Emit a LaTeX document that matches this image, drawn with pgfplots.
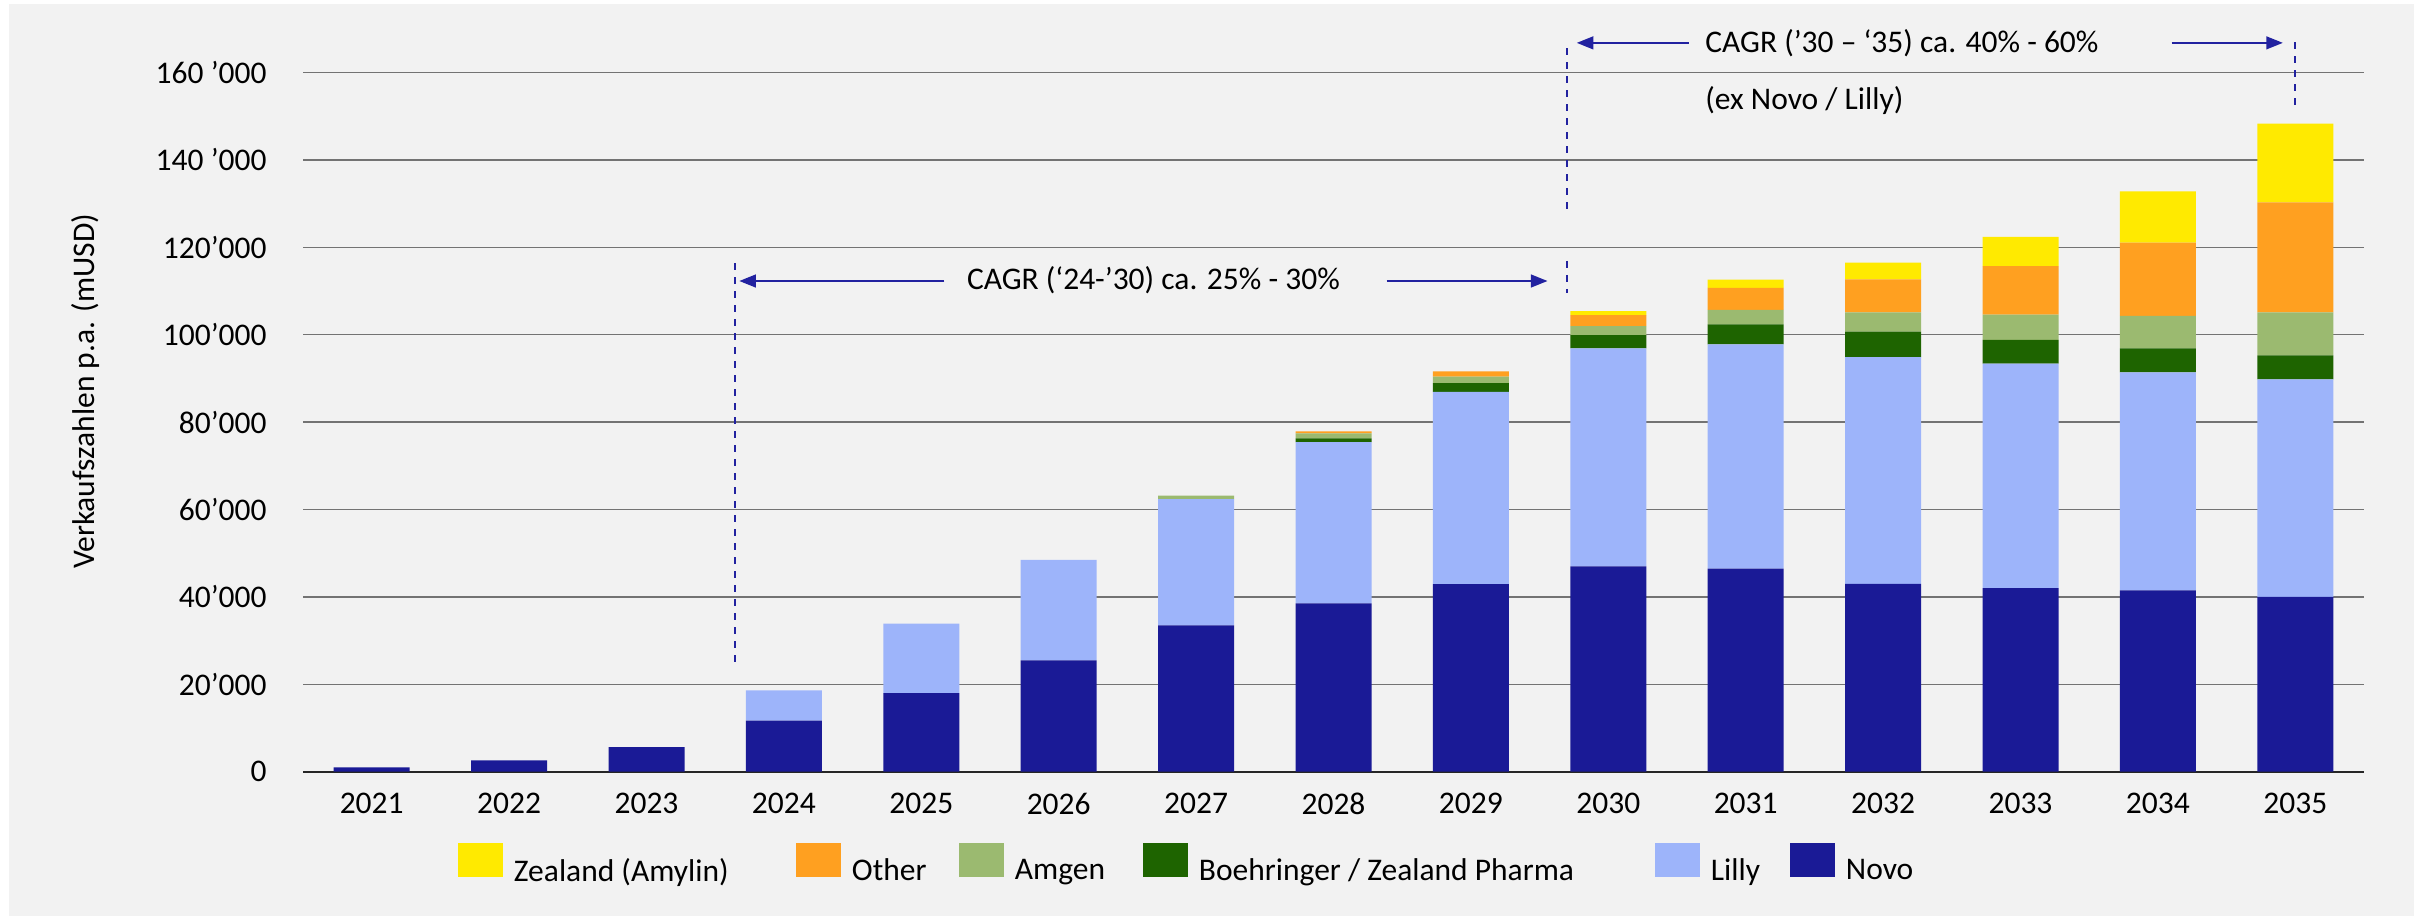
\documentclass[border=0pt]{standalone}
\usepackage{fontspec}
\setmainfont{Carlito}
\usepackage{pgfplots}
\pgfplotsset{compat=1.18}
\usepackage{pgfplotstable}
\usetikzlibrary{arrows.meta}
\definecolor{bgcol}{HTML}{F2F2F2}
\definecolor{novo}{HTML}{1A1A96}
\definecolor{lilly}{HTML}{9DB4FA}
\definecolor{bi}{HTML}{1E6400}
\definecolor{amgen}{HTML}{9BBA70}
\definecolor{other}{HTML}{FFA020}
\definecolor{zealand}{HTML}{FFEA00}
\definecolor{annot}{HTML}{2222A0}
\pgfplotstableread{
x novo lilly bi amgen other zealand
0 1000 0 0 0 0 0
1 2600 0 0 0 0 0
2 5600 0 0 0 0 0
3 11700 6900 0 0 0 0
4 18000 15900 0 0 0 0
5 25500 23000 0 0 0 0
6 33500 28900 0 800 0 0
7 38500 36900 900 1100 500 0
8 42900 44000 2000 1500 1200 0
9 47000 49900 3000 2100 2500 900
10 46500 51300 4600 3300 5000 1900
11 43000 51900 5800 4400 7600 3800
12 42000 51400 5400 5800 11100 6700
13 41500 49900 5500 7400 16800 11700
14 40000 49800 5500 9800 25200 18000
}\data
\begin{document}
\fontsize{9.45}{11.3}\selectfont
\begin{tikzpicture}
\useasboundingbox (0,0) rectangle (726.6pt,274.8pt);
\fill[bgcol] (2.7pt,0) rectangle (724.2pt,273.6pt);
\begin{axis}[
  at={(90.9pt,43.29pt)}, anchor=south west,
  width=618.3pt, height=209.73pt, scale only axis,
  xmin=-0.5, xmax=14.5, ymin=0, ymax=160000,
  ybar stacked, bar width=22.8pt,
  xtick={0,1,2,3,4,5,6,7,8,9,10,11,12,13,14},
  xticklabels={2021,2022,2023,2024,2025,2026,2027,2028,2029,2030,2031,2032,2033,2034,2035},
  ytick={0,20000,40000,60000,80000,100000,120000,140000,160000},
  yticklabels={0,20’000,40’000,60’000,80’000,100’000,120’000,140 ’000,160 ’000},
  scaled y ticks=false,
  major tick length=0pt,
  axis line style={draw=none},
  ymajorgrids, major grid style={black!55, line width=0.4pt},
  xticklabel style={yshift=-3pt},
  yticklabel style={xshift=-7.6pt},
  ylabel={Verkaufszahlen p.a. (mUSD)},
  ylabel style={at={(axis description cs:-0.1053,0.544)}, anchor=center},
  clip=false,
  reverse legend,
  legend columns=6,
  legend style={draw=none, fill=none, at={(axis description cs:0.0752,-0.1378)}, anchor=west,
    inner sep=0pt, outer sep=0pt, nodes={inner xsep=0pt},
    /tikz/every odd column/.append style={column sep=3.3pt},
    /tikz/every even column/.append style={column sep=0pt}},
  sw/.style={legend image code/.code={\fill[##1] (0pt,-1.6pt) rectangle (13.5pt,8.6pt);}},
]
\addplot[fill=novo, draw=none, sw] table[x=x, y=novo] {\data};
\addlegendentry{Novo}
\addplot[fill=lilly, draw=none, sw] table[x=x, y=lilly] {\data};
\addlegendentry{\makebox[23.7pt][l]{Lilly}}
\addplot[fill=bi, draw=none, sw] table[x=x, y=bi] {\data};
\addlegendentry{\makebox[136.8pt][l]{Boehringer / Zealand Pharma}}
\addplot[fill=amgen, draw=none, sw] table[x=x, y=amgen] {\data};
\addlegendentry{\makebox[38.4pt][l]{Amgen}}
\addplot[fill=other, draw=none, sw] table[x=x, y=other] {\data};
\addlegendentry{\makebox[32.1pt][l]{Other}}
\addplot[fill=zealand, draw=none, sw] table[x=x, y=zealand] {\data};
\addlegendentry{\makebox[84.6pt][l]{Zealand (Amylin)}}
\draw[black!85, line width=0.6pt] (axis cs:-0.5,0) -- (axis cs:14.5,0);
% annotations
\draw[annot, line width=0.6pt, dash pattern=on 2.1pt off 2.1pt] (axis cs:2.641,116400) -- (axis cs:2.641,24900);
\draw[annot, line width=0.6pt, dash pattern=on 2.1pt off 2.1pt] (axis cs:8.70,116900) -- (axis cs:8.70,109500);
\draw[annot, line width=0.6pt, dash pattern=on 2.1pt off 2.1pt] (axis cs:8.697,165600) -- (axis cs:8.697,128800);
\draw[annot, line width=0.6pt, dash pattern=on 2.1pt off 2.1pt] (axis cs:14.0,166900) -- (axis cs:14.0,152500);
\draw[annot, line width=0.7pt, -{Triangle[length=5pt,width=3.8pt]}] (axis cs:4.168,112300) -- (axis cs:2.675,112300);
\draw[annot, line width=0.7pt, -{Triangle[length=5pt,width=3.8pt]}] (axis cs:7.386,112300) -- (axis cs:8.558,112300);
\draw[annot, line width=0.7pt, -{Triangle[length=5pt,width=3.8pt]}] (axis cs:9.585,166800) -- (axis cs:8.77,166800);
\draw[annot, line width=0.7pt, -{Triangle[length=5pt,width=3.8pt]}] (axis cs:13.10,166800) -- (axis cs:13.91,166800);
\node[anchor=center] at (axis cs:5.689,112400) {CAGR (‘24-’30) ca. 25\% - 30\%};
\node[anchor=west, inner sep=0pt] at (axis cs:9.702,166800) {CAGR (’30 – ‘35) ca. 40\% - 60\%};
\node[anchor=west, inner sep=0pt] at (axis cs:9.702,153700) {(ex Novo / Lilly)};
\end{axis}
\end{tikzpicture}
\end{document}
